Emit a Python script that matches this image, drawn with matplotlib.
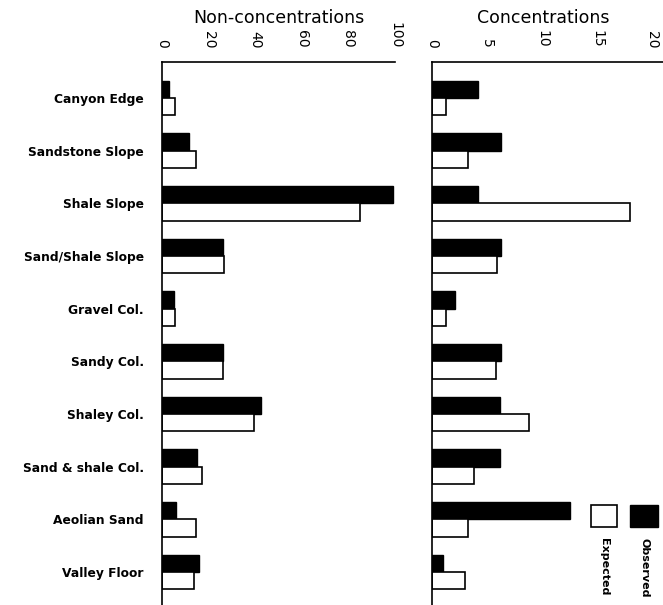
import matplotlib
matplotlib.use("Agg")
import matplotlib.pyplot as plt
from matplotlib.patches import Rectangle
import numpy as np

categories = ["Canyon Edge", "Sandstone Slope", "Shale Slope", "Sand/Shale Slope",
              "Gravel Col.", "Sandy Col.", "Shaley Col.", "Sand & shale Col.",
              "Aeolian Sand", "Valley Floor"]
non_obs = [3, 11.6, 99, 26, 5, 26, 42.5, 15, 6, 16]
non_exp = [5.5, 14.6, 85, 26.5, 5.5, 26.3, 39.5, 17, 14.5, 13.8]
conc_obs = [4.2, 6.3, 4.2, 6.3, 2.1, 6.3, 6.2, 6.2, 12.5, 1.0]
conc_exp = [1.3, 3.3, 18.0, 5.9, 1.3, 5.8, 8.8, 3.8, 3.3, 3.0]
non_ticks = [0, 20, 40, 60, 80, 100]
conc_ticks = [0, 5, 10, 15, 20]

W, H = 663, 605
fig = plt.figure(figsize=(W / 100, H / 100), dpi=100)

top = 1 - 62 / H
ax1 = fig.add_axes([162 / W, 0, 233 / W, top])
ax2 = fig.add_axes([432 / W, 0, 231 / W, top])

y = np.arange(len(categories))
h = 0.33


def draw(ax, obs, exp, xmax, ticks, title, title_x):
    ax.barh(y - h / 2, obs, height=h, color="black", edgecolor="black", linewidth=1.0)
    ax.barh(y + h / 2, exp, height=h, color="white", edgecolor="black", linewidth=1.2)
    ax.set_xlim(0, xmax)
    ax.set_ylim(len(categories) - 1 + 0.626, -0.683)
    ax.spines["right"].set_visible(False)
    ax.spines["bottom"].set_visible(False)
    ax.spines["left"].set_linewidth(1.2)
    ax.spines["top"].set_linewidth(1.2)
    ax.xaxis.tick_top()
    ax.set_xticks(ticks)
    ax.set_xticklabels([str(t) for t in ticks], rotation=-90, fontsize=10)
    ax.tick_params(axis="x", length=0, pad=10)
    ax.tick_params(axis="y", length=0)
    ax.text(title_x, 1.081, title, transform=ax.transAxes, fontsize=12.5,
            ha="center", va="center")


draw(ax1, non_obs, non_exp, 100, non_ticks, "Non-concentrations", 0.5)
draw(ax2, conc_obs, conc_exp, 21, conc_ticks, "Concentrations", 0.48)

ax1.set_yticks(y)
ax1.set_yticklabels(categories, fontsize=8.8, fontweight="bold")
ax1.tick_params(axis="y", pad=13)
ax2.set_yticks([])

# legend
fig.patches.append(Rectangle((630 / W, 1 - 527 / H), 28 / W, 22 / H, transform=fig.transFigure,
                             facecolor="black", edgecolor="black"))
fig.patches.append(Rectangle((591 / W, 1 - 527 / H), 26 / W, 22 / H, transform=fig.transFigure,
                             facecolor="white", edgecolor="black", linewidth=1.2))
fig.text(645 / W, 1 - 538 / H, "Observed", rotation=-90, fontsize=8, fontweight="bold",
         ha="center", va="top")
fig.text(604 / W, 1 - 538 / H, "Expected", rotation=-90, fontsize=8, fontweight="bold",
         ha="center", va="top")

fig.savefig("out.png", dpi=100)
